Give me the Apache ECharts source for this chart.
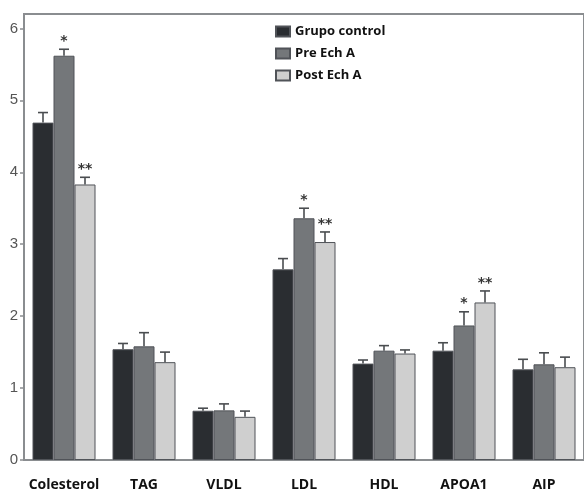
<!DOCTYPE html>
<html><head><meta charset="utf-8">
<script src="https://cdn.jsdelivr.net/npm/echarts@6/dist/echarts.min.js"></script>
<style>html,body{margin:0;padding:0;background:#fff}#c{width:584px;height:492px}</style>
</head><body><div id="c"></div>
<script>
var categories = ['Colesterol','TAG','VLDL','LDL','HDL','APOA1','AIP'];
var seriesNames = ['Grupo control','Pre Ech A','Post Ech A'];
var control = [4.69,1.54,0.685,2.65,1.34,1.52,1.26];
var controlErr = [0.14,0.08,0.035,0.15,0.05,0.11,0.14];
var pre = [5.62,1.58,0.69,3.36,1.52,1.87,1.33];
var preErr = [0.09,0.19,0.09,0.14,0.07,0.19,0.16];
var post = [3.83,1.36,0.60,3.03,1.48,2.19,1.29];
var postErr = [0.10,0.14,0.08,0.14,0.05,0.16,0.14];
var preSig = ['*','','','*','','*',''];
var postSig = ['**','','','**','','**',''];
var yTicks = [0,1,2,3,4,5,6];

var colors = ['#2a2d31','#74777a','#cfcfcf'];
var values = [control, pre, post];
var errs = [controlErr, preErr, postErr];
var sigs = [null, preSig, postSig];
var BAR_W = 21;

var chart = echarts.init(document.getElementById('c'));
var series = [];
for (var s = 0; s < 3; s++) {
  series.push({
    name: seriesNames[s], type: 'bar', data: values[s], barWidth: BAR_W, barGap: '0%',
    itemStyle: {color: colors[s], borderColor: '#505358', borderWidth: 1},
    z: 2
  });
}
for (var s2 = 0; s2 < 3; s2++) {
  (function(s){
    var data = categories.map(function(c, i){ return [i, values[s][i], values[s][i] + errs[s][i], sigs[s] ? sigs[s][i] : '']; });
    series.push({
      type: 'custom', name: seriesNames[s] + ' err', data: data, z: 5, silent: true,
      renderItem: function(params, api){
        var i = api.value(0);
        var base = api.coord([i, api.value(1)]);
        var top = api.coord([i, api.value(2)]);
        var x = base[0] + (s - 1) * BAR_W;
        var st = {stroke: '#4a4d50', lineWidth: 1.6};
        var children = [
          {type:'line', shape:{x1:x, y1:base[1], x2:x, y2:top[1]}, style: st},
          {type:'line', shape:{x1:x-5, y1:top[1], x2:x+5, y2:top[1]}, style: st}
        ];
        var sig = data[params.dataIndex][3];
        if (sig) {
          children.push({type:'text', style:{text: sig, x: x, y: top[1] - 1, align:'center', verticalAlign:'bottom',
            font: 'bold 14px "DejaVu Sans"', fill:'#333'}});
        }
        return {type:'group', children: children};
      }
    });
  })(s2);
}

chart.setOption({
  animation: false,
  grid: {left: 24, top: 14, bottom: 31, right: -9, show: true, borderColor: '#8a8d90', borderWidth: 2, containLabel: false},
  legend: {
    data: seriesNames, orient: 'vertical', left: 270, top: 20, itemWidth: 14, itemHeight: 10, itemGap: 9,
    icon: 'rect', textStyle: {fontFamily: '"Open Sans"', fontWeight: 'bold', fontSize: 13, color: '#111'}
  },
  xAxis: {
    type: 'category', data: categories,
    axisLine: {lineStyle: {color: '#8a8d90', width: 2}},
    axisTick: {show: false},
    axisLabel: {interval: 0, margin: 18, fontFamily: '"Open Sans"', fontWeight: 'bold', fontSize: 14, color: '#111'}
  },
  yAxis: {
    type: 'value', min: 0, max: 6.2, interval: 1,
    axisLine: {show: true, lineStyle: {color: '#8a8d90', width: 2}},
    axisTick: {show: true, length: 4, lineStyle: {color: '#8a8d90', width: 1.5},
      customValues: yTicks},
    axisLabel: {margin: 6, fontFamily: '"Liberation Sans"', fontSize: 15, color: '#555',
      customValues: yTicks,
      formatter: function(v){ return yTicks.indexOf(v) >= 0 ? String(v) : ''; }},
    splitLine: {show: false}
  },
  series: series
});
</script></body></html>
